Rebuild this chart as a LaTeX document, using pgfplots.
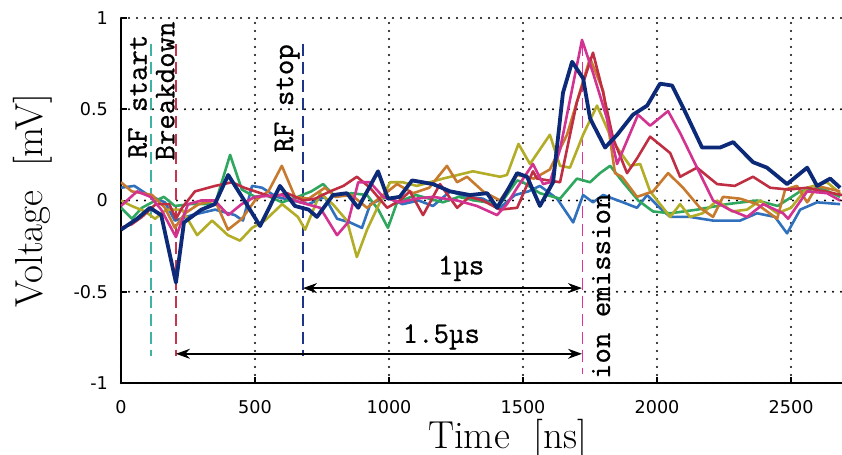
\documentclass[border=0pt]{standalone}
\usepackage{pgfplots}
\pgfplotsset{compat=1.18}
\usepackage{fontspec}
\usetikzlibrary{arrows.meta}
\newfontfamily\tickfont{DejaVu Sans}
\newfontfamily\annfont{Latin Modern Mono}[FakeBold=0.7]
\definecolor{cblue}{HTML}{3070BC}
\definecolor{cgreen}{HTML}{2FA75E}
\definecolor{colive}{HTML}{B2AC26}
\definecolor{corange}{HTML}{C77A2E}
\definecolor{cred}{HTML}{BF2E42}
\definecolor{cmag}{HTML}{D23290}
\definecolor{cnavy}{HTML}{0C2A78}
\definecolor{lteal}{HTML}{3EB3A4}
\definecolor{lred}{HTML}{C8344E}
\definecolor{lnavy}{HTML}{1E3486}
\definecolor{lmag}{HTML}{E2309C}
\begin{document}
\begin{tikzpicture}
\begin{axis}[
  scale only axis, width=360.5pt, height=182.5pt,
  xmin=0, xmax=2690, ymin=-1, ymax=1,
  axis x line*=bottom, axis y line*=left,
  axis line style={black, line width=1.3pt},
  xtick={0,500,1000,1500,2000,2500}, xticklabels={0,500,1000,1500,2000,2500},
  ytick={-1,-0.5,0,0.5,1}, yticklabels={-1,-0.5,0,0.5,1},
  tick align=inside, major tick length=3pt,
  tick style={black, line width=0.8pt},
  ticklabel style={font=\tickfont\fontsize{8.8}{10}\selectfont},
  xticklabel style={yshift=-5pt},
  yticklabel style={xshift=-3pt},
  grid=major,
  major grid style={black, line width=1.1pt, dash pattern=on 0pt off 4pt, line cap=round},
  xlabel={Time\ \ [ns]}, ylabel={Voltage\ \ [mV]},
  label style={font=\fontsize{19.5}{21}\selectfont},
  xlabel style={at={([xshift=13pt,yshift=-28pt]axis description cs:0.5,0)}, anchor=center},
  ylabel style={at={([xshift=-44pt]axis description cs:0,0.5)}, anchor=center},
  clip mode=individual,
  every axis plot/.append style={line join=round},
]
% marker lines
\addplot[lteal, line width=0.9pt, dash pattern=on 6pt off 3pt] coordinates {(112,0.86)(112,-0.85)};
\addplot[lred, line width=0.9pt, dash pattern=on 6pt off 3pt] coordinates {(205,0.86)(205,-0.85)};
\addplot[lnavy, line width=0.9pt, dash pattern=on 6pt off 3pt] coordinates {(679,0.86)(679,-0.85)};
\addplot[lmag, line width=0.9pt, dash pattern=on 6pt off 3pt] coordinates {(1722,0.86)(1722,-0.95)};
% data
\addplot[cblue, line width=1.3pt] coordinates {(0,0.07)(50,0.08)(101,0.03)(164,-0.01)(201,-0.11)(265,-0.08)(351,-0.05)(425,-0.08)(455,-0.11)(489,0.08)(526,0.07)(580,0.02)(640,0.0)(700,-0.02)(760,0.02)(806,-0.1)(854,-0.12)(899,-0.15)(930,-0.02)(990,0.02)(1050,-0.02)(1110,0.0)(1164,-0.03)(1228,0.05)(1290,0.02)(1350,0.01)(1414,-0.04)(1470,0.03)(1520,0.05)(1563,0.08)(1627,0.01)(1687,-0.12)(1724,0.03)(1761,-0.01)(1799,0.03)(1873,-0.01)(1925,-0.04)(1963,0.03)(2010,-0.04)(2049,-0.09)(2123,-0.09)(2209,-0.11)(2310,-0.11)(2373,-0.07)(2440,-0.09)(2485,-0.18)(2534,-0.05)(2597,-0.01)(2683,-0.02)};
\addplot[cgreen, line width=1.3pt] coordinates {(0,-0.04)(41,-0.1)(78,-0.04)(116,-0.01)(160,0.02)(201,-0.03)(260,-0.02)(351,-0.02)(407,0.25)(451,0.06)(500,0.02)(540,0.03)(601,-0.01)(660,0.02)(710,0.05)(754,0.09)(800,0.02)(860,0.04)(918,0.03)(960,-0.05)(996,-0.15)(1030,-0.01)(1100,0.03)(1150,0.01)(1201,-0.01)(1260,0.02)(1320,0.0)(1366,-0.01)(1410,-0.03)(1478,0.11)(1500,0.1)(1563,0.04)(1638,0.01)(1701,0.12)(1750,0.1)(1787,0.15)(1825,0.19)(1873,0.1)(1930,0.0)(1985,-0.06)(2049,-0.07)(2150,-0.05)(2261,-0.02)(2373,0.0)(2450,-0.03)(2534,0.05)(2608,0.07)(2683,0.02)};
\addplot[colive, line width=1.3pt] coordinates {(0,0.0)(40,-0.03)(90,-0.06)(127,-0.1)(170,-0.05)(228,-0.05)(284,-0.19)(340,-0.11)(399,-0.19)(444,-0.22)(489,-0.15)(537,-0.11)(601,-0.02)(660,-0.09)(687,-0.16)(743,0.04)(790,-0.02)(843,-0.11)(880,-0.31)(918,-0.16)(966,-0.01)(1004,0.1)(1050,0.1)(1104,0.08)(1201,0.12)(1313,0.16)(1414,0.13)(1440,0.14)(1483,0.31)(1526,0.2)(1600,0.36)(1638,0.19)(1675,0.18)(1724,0.36)(1776,0.52)(1836,0.32)(1899,0.19)(1937,0.2)(1974,0.05)(2049,-0.09)(2086,-0.02)(2123,-0.09)(2170,-0.07)(2224,0.0)(2280,-0.06)(2336,-0.05)(2384,0.0)(2448,-0.07)(2500,-0.04)(2560,0.07)(2634,0.1)(2683,0.04)};
\addplot[corange, line width=1.3pt] coordinates {(0,0.1)(40,0.05)(80,0.04)(116,0.03)(164,-0.04)(201,-0.15)(239,-0.07)(290,-0.02)(351,0.0)(399,-0.16)(451,-0.1)(500,0.0)(550,0.05)(600,0.19)(649,0.02)(700,0.01)(761,0.07)(800,0.02)(860,0.03)(918,-0.04)(970,0.02)(1030,0.09)(1090,0.04)(1150,0.07)(1216,0.19)(1254,0.1)(1291,0.13)(1351,0.05)(1414,0.0)(1478,0.14)(1540,0.12)(1600,0.17)(1664,0.36)(1750,0.78)(1799,0.6)(1843,0.15)(1869,0.13)(1925,0.02)(1985,0.05)(2041,0.15)(2097,0.07)(2160,-0.04)(2209,-0.09)(2246,0.02)(2310,0.01)(2373,-0.02)(2448,-0.1)(2478,0.06)(2522,0.08)(2560,-0.01)(2597,0.08)(2683,0.05)};
\addplot[cred, line width=1.3pt] coordinates {(0,-0.15)(40,-0.13)(78,-0.09)(130,-0.02)(180,-0.02)(205,-0.1)(228,-0.04)(276,0.05)(351,0.08)(414,0.1)(460,0.07)(500,0.05)(563,0.02)(620,0.04)(680,0.0)(724,0.01)(780,0.05)(830,0.08)(880,0.13)(929,0.07)(993,-0.04)(1040,0.0)(1078,0.05)(1127,-0.08)(1190,0.09)(1254,-0.04)(1300,0.02)(1350,0.0)(1414,-0.05)(1478,-0.04)(1537,0.16)(1552,0.12)(1638,0.1)(1701,0.54)(1761,0.81)(1799,0.59)(1836,0.34)(1888,0.15)(1925,0.23)(1974,0.35)(2049,0.26)(2086,0.13)(2149,0.18)(2224,0.09)(2290,0.08)(2358,0.13)(2422,0.07)(2490,0.06)(2560,0.07)(2657,0.04)(2690,0.03)};
\addplot[cmag, line width=1.3pt] coordinates {(0,-0.03)(60,0.05)(110,0.02)(150,-0.05)(205,-0.2)(250,-0.02)(300,0.0)(350,0.0)(400,-0.08)(450,-0.02)(500,0.02)(600,0.03)(668,-0.01)(743,-0.04)(806,-0.19)(847,-0.12)(885,0.1)(929,0.1)(978,0.02)(1041,-0.01)(1100,0.01)(1164,0.02)(1254,0.0)(1328,-0.03)(1403,-0.08)(1440,-0.02)(1478,0.07)(1537,0.2)(1575,0.09)(1600,0.1)(1638,0.28)(1720,0.88)(1761,0.7)(1813,0.45)(1851,0.2)(1929,0.47)(1974,0.41)(2041,0.49)(2086,0.37)(2149,0.18)(2209,0.0)(2270,-0.05)(2336,-0.09)(2396,-0.02)(2470,-0.07)(2489,-0.1)(2560,0.05)(2634,0.04)(2683,0.0)};
\addplot[cnavy, line width=1.9pt] coordinates {(0,-0.16)(60,-0.1)(108,-0.04)(150,-0.08)(205,-0.45)(235,-0.12)(300,-0.05)(350,-0.02)(400,0.14)(460,0.0)(519,-0.14)(593,0.08)(649,-0.03)(700,-0.05)(731,-0.09)(791,0.03)(843,0.04)(885,-0.04)(959,0.16)(996,0.01)(1040,0.02)(1086,0.11)(1164,0.09)(1228,0.05)(1302,0.03)(1366,0.04)(1403,-0.04)(1440,0.05)(1478,0.15)(1515,0.13)(1563,-0.03)(1612,0.1)(1649,0.59)(1683,0.76)(1724,0.67)(1750,0.45)(1806,0.29)(1851,0.36)(1910,0.47)(1963,0.52)(2011,0.64)(2056,0.63)(2097,0.51)(2168,0.29)(2235,0.29)(2284,0.32)(2358,0.21)(2410,0.18)(2485,0.09)(2560,0.18)(2597,0.08)(2646,0.12)(2683,0.07)};
% arrows
\draw[black, line width=0.8pt, {Stealth[length=7pt,width=5pt]}-{Stealth[length=7pt,width=5pt]}] (axis cs:679,-0.48) -- (axis cs:1720,-0.48);
\draw[black, line width=0.8pt, {Stealth[length=7pt,width=5pt]}-{Stealth[length=7pt,width=5pt]}] (axis cs:205,-0.84) -- (axis cs:1720,-0.84);
% labels
\node[font=\annfont\fontsize{15}{16}\selectfont, anchor=base] at (axis cs:1269,-0.405) {1µs};
\node[font=\annfont\fontsize{15}{16}\selectfont, anchor=base] at (axis cs:1195,-0.78) {1.5µs};
\node[font=\annfont\fontsize{15}{16}\selectfont, rotate=90, inner sep=0pt] at (axis cs:62,0.57) {RF start};
\node[font=\annfont\fontsize{15}{16}\selectfont, rotate=90, inner sep=0pt] at (axis cs:165,0.60) {Breakdown};
\node[font=\annfont\fontsize{15}{16}\selectfont, rotate=90, inner sep=0pt] at (axis cs:620,0.56) {RF stop};
\node[font=\annfont\fontsize{15}{16}\selectfont, rotate=90, inner sep=0pt] at (axis cs:1791,-0.47) {ion emission};
\end{axis}
\pgfresetboundingbox
\useasboundingbox ([shift={(-60.5pt,-36pt)}]current axis.south west) rectangle ([shift={(0pt,9pt)}]current axis.north east);
\end{tikzpicture}
\end{document}
